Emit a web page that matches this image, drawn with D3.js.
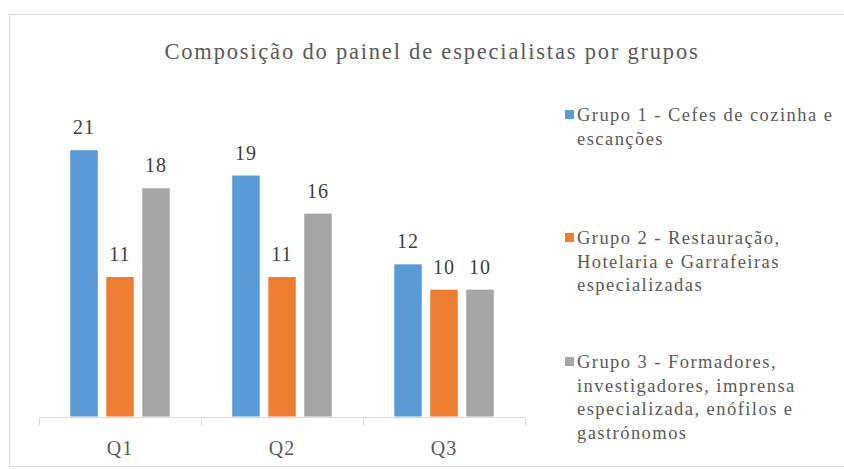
<!DOCTYPE html>
<html><head><meta charset="utf-8">
<script src="https://cdn.jsdelivr.net/npm/d3@7"></script>
<style>body{margin:0;background:#fff}</style>
</head><body>
<script>
const categories = ["Q1", "Q2", "Q3"];
const seriesNames = ["Grupo 1 - Cefes de cozinha e escanções",
  "Grupo 2 - Restauração, Hotelaria e Garrafeiras especializadas",
  "Grupo 3 - Formadores, investigadores, imprensa especializada, enófilos e gastrónomos"];
const legendLines = [
  ["Grupo 1 - Cefes de cozinha e", "escanções"],
  ["Grupo 2 - Restauração,", "Hotelaria e Garrafeiras", "especializadas"],
  ["Grupo 3 - Formadores,", "investigadores, imprensa", "especializada, enófilos e", "gastrónomos"]
];
const grupo1 = [21, 19, 12];
const grupo2 = [11, 11, 10];
const grupo3 = [18, 16, 10];
const colors = ["#5b9bd5", "#ed7d31", "#a5a5a5"];
const title = "Composição do painel de especialistas por grupos";

const W = 844, H = 469;
const svg = d3.select("body").append("svg").attr("width", W).attr("height", H)
  .attr("font-family", "Liberation Serif");

svg.append("rect").attr("x", 9.5).attr("y", 14.5).attr("width", 850).attr("height", 452)
  .attr("fill", "#fff").attr("stroke", "#d9d9d9").attr("stroke-width", 1);

svg.append("text").attr("x", 432).attr("y", 59).attr("text-anchor", "middle")
  .attr("font-size", 22.5).attr("letter-spacing", 1.8).attr("fill", "#595959").text(title);

const x = d3.scaleBand().domain(categories).range([39, 525]).paddingInner(0).paddingOuter(0);
const xi = d3.scaleBand().domain([0, 1, 2]).range([0, x.bandwidth()]).paddingInner(0.236).paddingOuter(0.868);
const y = d3.scaleLinear().domain([0, 25]).range([416.5, 99.5]);

const data = [grupo1, grupo2, grupo3];

const axisG = svg.append("g").attr("transform", "translate(0,417.5)");
axisG.append("line").attr("x1", 39).attr("x2", 525).attr("stroke", "#d9d9d9");
const tickPos = categories.map(c => x(c)).concat([x(categories[2]) + x.bandwidth()]);
axisG.selectAll("line.tk").data(tickPos).join("line").attr("class", "tk")
  .attr("x1", d => Math.round(d) + 0.5).attr("x2", d => Math.round(d) + 0.5)
  .attr("y1", 0).attr("y2", 8).attr("stroke", "#d9d9d9");
svg.selectAll("text.cat").data(categories).join("text").attr("class", "cat")
  .attr("x", d => x(d) + x.bandwidth() / 2).attr("y", 455)
  .attr("text-anchor", "middle").attr("font-size", 20).attr("letter-spacing", 1)
  .attr("fill", "#595959").text(d => d);

data.forEach((vals, s) => {
  const g = svg.append("g");
  g.selectAll("rect").data(vals).join("rect")
    .attr("x", (d, i) => x(categories[i]) + xi(s))
    .attr("width", xi.bandwidth())
    .attr("y", d => y(d))
    .attr("height", d => y(0) - y(d))
    .attr("fill", colors[s]);
  g.selectAll("text").data(vals).join("text")
    .attr("x", (d, i) => x(categories[i]) + xi(s) + xi.bandwidth() / 2)
    .attr("y", d => y(d) - 16)
    .attr("text-anchor", "middle").attr("font-size", 20).attr("letter-spacing", 1)
    .attr("fill", "#404040").text(d => d);
});

const legendY = [121, 244, 368];
const lh = 23.5;
legendLines.forEach((lines, s) => {
  const g = svg.append("g");
  g.append("rect").attr("x", 565).attr("y", legendY[s] - 11).attr("width", 9).attr("height", 9).attr("fill", colors[s]);
  lines.forEach((ln, k) => {
    g.append("text").attr("x", 577).attr("y", legendY[s] + k * lh)
      .attr("font-size", 18.5).attr("letter-spacing", 1.45).attr("fill", "#595959").text(ln);
  });
});
</script>
</body></html>
